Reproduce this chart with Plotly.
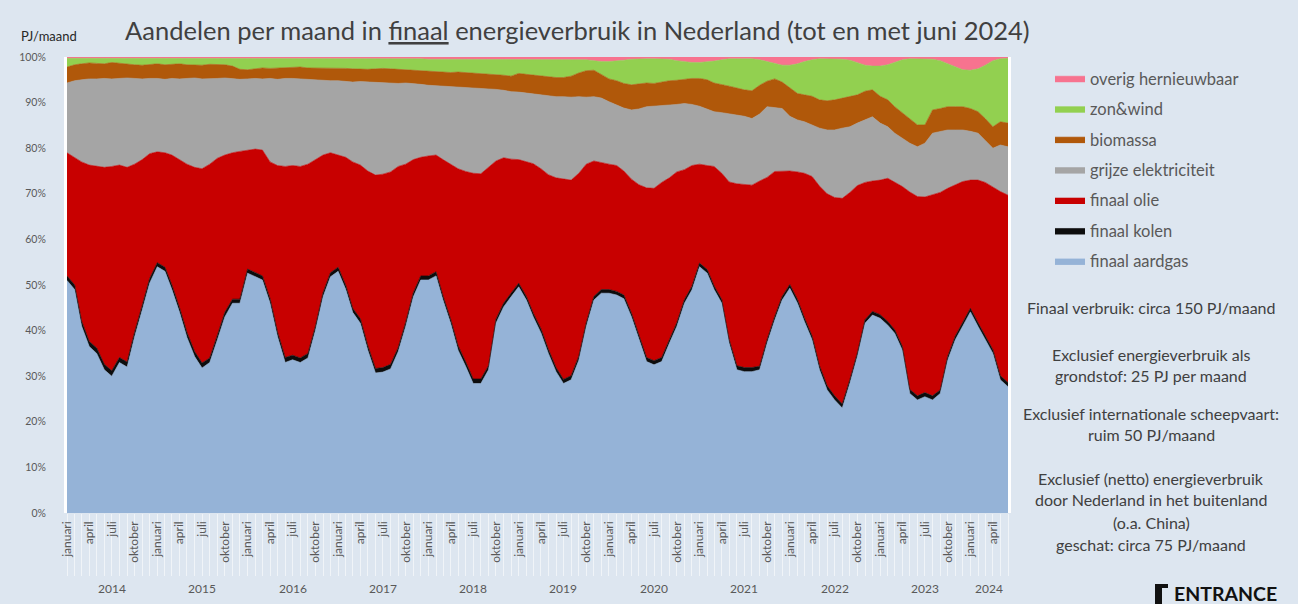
import plotly.graph_objects as go

# ---------------- data (share of final energy use, %, monthly Jan 2014 - Jun 2024) -------------
years = [2014, 2015, 2016, 2017, 2018, 2019, 2020, 2021, 2022, 2023, 2024]
month_names = ["januari", "april", "juli", "oktober"]
y_ticks = [0, 10, 20, 30, 40, 50, 60, 70, 80, 90, 100]

aardgas = [
    51, 49, 41, 36.5, 35, 31.4, 30, 33, 32, 38.6, 44.5, 50.4,
    54, 53, 49, 44, 38.5, 34.3, 31.8, 33, 38, 43, 46, 46,
    52.6, 51.8, 51.1, 46, 38.7, 33, 33.6, 33, 34, 40, 47.4, 51.8,
    53, 49, 44, 41.6, 35.7, 30.7, 30.9, 31.6, 35.4, 40.9, 47.4, 51.1,
    51.1, 52, 46.7, 41.6, 35.7, 32.1, 28.4, 28.4, 31.4, 41.6, 45.2, 47.4,
    49.6, 46.7, 43, 39.5, 35, 31, 28.4, 29.2, 33.5, 40.9, 46.7, 48.2,
    48.2, 47.8, 47, 43, 38.3, 33.2, 32.5, 33.2, 37.2, 40.9, 46, 48.9,
    54, 52.6, 49, 46, 37.2, 31.4, 31, 31, 31.4, 37.2, 42.3, 46.7,
    49.3, 46, 42, 38, 31.4, 27, 24.8, 23, 28.5, 34.3, 41.6, 43.4,
    42.7, 41.2, 39.4, 35.7, 26.2, 24.8, 25.5, 24.8, 26.2, 33.5, 38, 40.9,
    44.1, 40.9, 38, 35, 29.2, 27.7,
]
kolen = [
    1.0, 1.0, 1.1, 1.1, 1.2, 1.2, 1.2, 1.1, 1.1, 1.0, 1.0, 1.0,
    0.9, 0.9, 1.0, 1.0, 1.1, 1.1, 1.1, 1.0, 1.0, 1.0, 0.9, 0.9,
    0.9, 0.9, 0.9, 1.0, 1.0, 1.1, 1.0, 1.0, 1.0, 0.9, 0.9, 0.9,
    0.9, 0.9, 0.9, 1.0, 1.0, 1.0, 1.0, 1.0, 0.9, 0.9, 0.9, 0.9,
    0.9, 0.9, 0.9, 0.9, 1.0, 1.0, 1.0, 1.0, 0.9, 0.9, 0.8, 0.8,
    0.8, 0.8, 0.8, 0.9, 0.9, 0.9, 0.9, 0.9, 0.9, 0.8, 0.8, 0.8,
    0.8, 0.8, 0.8, 0.8, 0.8, 0.9, 0.9, 0.9, 0.8, 0.8, 0.8, 0.8,
    0.8, 0.8, 0.8, 0.8, 0.8, 0.9, 0.9, 0.9, 0.8, 0.8, 0.8, 0.8,
    0.8, 0.8, 0.8, 0.8, 0.9, 0.9, 0.9, 0.9, 0.8, 0.8, 0.8, 0.8,
    0.8, 0.8, 0.8, 0.8, 0.9, 0.9, 0.9, 0.9, 0.8, 0.8, 0.8, 0.8,
    0.8, 0.8, 0.8, 0.8, 0.9, 0.9,
]
olie = [
    27, 28, 34.9, 38.7, 39.8, 43.2, 44.8, 42.2, 42.7, 36.9, 32, 27.4,
    24.3, 25.1, 28.5, 32.5, 36.9, 40.4, 42.6, 42.5, 38.8, 34.5, 32.1, 32.4,
    26, 27.1, 27.6, 30, 36.5, 41.9, 41.6, 42, 41.5, 36.6, 30.2, 26.3,
    24.6, 28.1, 32.1, 33.7, 38.3, 42.4, 42.4, 42.2, 39.7, 34.7, 29.2, 26,
    26.3, 25.6, 29.9, 34, 38.8, 41.8, 45.1, 45, 43.5, 34.7, 31.9, 29.4,
    27.1, 29.5, 32.8, 35.1, 38.3, 41.6, 43.9, 42.9, 40.1, 34.8, 29.7, 27.8,
    27.5, 27.6, 27.2, 29.4, 32.9, 37.2, 37.8, 38.4, 35.5, 33.1, 28.5, 26.5,
    21.7, 22.8, 26.2, 27.7, 34.6, 39.9, 40.1, 40, 40.6, 35.6, 31.8, 27.5,
    24.9, 28, 31.7, 35, 39.4, 42.1, 43.5, 45.1, 41, 36.7, 30.1, 28.6,
    29.5, 31.4, 32.3, 35.1, 43.3, 43.7, 42.9, 44.1, 43.3, 36.9, 33.2, 31,
    28.1, 31.3, 33.7, 35.7, 40.4, 41.1,
]
grijs = [
    15.3, 16.8, 18, 18.9, 19.2, 19.5, 19.2, 19, 19.6, 18.8, 17.7, 16.5,
    16.1, 16.1, 16.8, 17.7, 18.8, 19.6, 19.7, 18.7, 17.5, 16.9, 16.3, 15.8,
    15.7, 15.5, 15.6, 18.3, 18.9, 19.3, 19.1, 19.2, 18.5, 17.5, 16.3, 15.8,
    16.3, 16.6, 17.5, 18.3, 19.5, 20.3, 20, 19.4, 18.2, 17.8, 16.7, 16,
    15.5, 15.2, 16.1, 17, 17.9, 18.4, 18.8, 18.8, 17.2, 15.7, 14.8, 14.8,
    14.8, 15.1, 15.2, 16.1, 17.2, 17.8, 18.1, 18.2, 16.8, 14.7, 14.1, 14.2,
    13.7, 13.3, 13.8, 15.2, 16.6, 17.8, 18, 16.9, 16, 14.8, 14.5, 13.4,
    12.7, 12.4, 12, 13.3, 14.9, 15.1, 15, 14.6, 14.7, 15.5, 14, 13.7,
    12, 11.4, 11.3, 11.3, 12.7, 14, 14.8, 15.4, 14.4, 13.7, 13.7, 14.1,
    12.5, 11.3, 10.8, 10.6, 10.7, 10.9, 11.8, 13.5, 13.4, 12.8, 12, 11.3,
    10.7, 10.3, 9.2, 8.5, 10.2, 10.6,
]
biomassa = [
    3.5, 3.5, 3.5, 3.5, 3.4, 3.2, 3.6, 3.3, 3.1, 3.0, 3.0, 3.1,
    3.2, 3.2, 3.1, 3.3, 3.0, 2.8, 3.0, 3.2, 3.1, 2.9, 2.7, 2.2,
    2.0, 2.1, 2.4, 2.2, 2.5, 2.4, 2.4, 2.6, 2.6, 2.6, 2.7, 2.8,
    2.8, 2.9, 2.9, 2.7, 2.8, 3.0, 3.2, 3.2, 3.1, 2.9, 2.8, 2.9,
    3.1, 3.1, 3.0, 3.1, 3.3, 3.3, 3.2, 3.2, 3.3, 3.2, 3.3, 3.4,
    4.1, 4.1, 4.2, 4.2, 4.2, 4.2, 4.2, 4.6, 5.2, 5.8, 5.8, 5.2,
    5.0, 5.3, 5.4, 5.5, 5.5, 5.2, 5.0, 5.1, 5.3, 5.3, 5.3, 5.7,
    6.1, 6.4, 6.3, 6.2, 6.1, 5.9, 5.8, 6.1, 6.3, 5.6, 6.3, 5.8,
    6.2, 5.8, 5.9, 6.3, 6.2, 6.4, 6.6, 6.6, 6.7, 6.2, 6.3, 5.9,
    5.9, 5.9, 5.8, 5.5, 5.4, 4.8, 4.0, 5.1, 5.0, 5.1, 5.1, 5.1,
    5.0, 4.7, 4.8, 4.7, 5.1, 5.2,
]
zonwind = [
    1.9, 1.4, 1.2, 1.0, 1.1, 1.2, 0.9, 1.1, 1.2, 1.4, 1.5, 1.3,
    1.2, 1.4, 1.3, 1.2, 1.4, 1.5, 1.5, 1.3, 1.3, 1.4, 1.7, 2.4,
    2.4, 2.2, 2.0, 2.1, 2.0, 1.9, 1.9, 1.8, 2.0, 2.0, 2.1, 2.0,
    2.0, 2.1, 2.2, 2.3, 2.3, 2.2, 2.1, 2.2, 2.3, 2.4, 2.6, 2.7,
    2.6, 2.7, 2.9, 2.9, 2.8, 2.9, 3.0, 3.1, 3.2, 3.4, 3.5, 3.7,
    3.1, 3.3, 3.5, 3.7, 3.9, 4.0, 4.0, 3.7, 3.0, 2.4, 2.1, 2.8,
    3.8, 4.3, 5.1, 5.6, 5.5, 5.3, 5.4, 5.1, 4.7, 4.3, 3.9, 3.5,
    3.5, 3.9, 4.8, 5.4, 6.0, 6.4, 6.8, 7.0, 5.6, 4.3, 3.3, 3.7,
    5.0, 6.5, 7.3, 8.0, 9.0, 9.2, 9.0, 8.5, 7.9, 7.1, 5.7, 5.2,
    6.6, 7.7, 9.8, 11.7, 13.1, 14.5, 14.5, 11.1, 10.5, 9.4, 8.7, 8.1,
    8.4, 9.4, 11.7, 14.5, 13.8, 14.2,
]
overig = [
    0.3, 0.3, 0.3, 0.3, 0.3, 0.3, 0.3, 0.3, 0.3, 0.3, 0.3, 0.3,
    0.3, 0.3, 0.3, 0.3, 0.3, 0.3, 0.3, 0.3, 0.3, 0.3, 0.3, 0.3,
    0.4, 0.4, 0.4, 0.4, 0.4, 0.4, 0.4, 0.4, 0.4, 0.4, 0.4, 0.4,
    0.4, 0.4, 0.4, 0.4, 0.4, 0.4, 0.4, 0.4, 0.4, 0.4, 0.4, 0.4,
    0.5, 0.5, 0.5, 0.5, 0.5, 0.5, 0.5, 0.5, 0.5, 0.5, 0.5, 0.5,
    0.5, 0.5, 0.5, 0.5, 0.5, 0.5, 0.5, 0.5, 0.5, 0.6, 0.8, 1.0,
    1.0, 0.9, 0.7, 0.5, 0.4, 0.4, 0.4, 0.4, 0.5, 0.8, 1.0, 1.2,
    1.2, 1.1, 0.9, 0.6, 0.4, 0.4, 0.4, 0.4, 0.6, 1.0, 1.5, 1.8,
    1.8, 1.5, 1.0, 0.6, 0.4, 0.4, 0.4, 0.5, 0.7, 1.2, 1.8, 2.0,
    2.0, 1.7, 1.1, 0.6, 0.4, 0.4, 0.4, 0.5, 0.8, 1.5, 2.2, 2.8,
    2.9, 2.6, 1.8, 0.8, 0.4, 0.3,
]

# months as dates
months = [f"{y}-{m:02d}-01" for y in years for m in range(1, 13)][:len(aardgas)]

series = [
    ("finaal aardgas", aardgas, "#95b3d7"),
    ("finaal kolen", kolen, "#0d0d0d"),
    ("finaal olie", olie, "#c80000"),
    ("grijze elektriciteit", grijs, "#a5a5a5"),
    ("biomassa", biomassa, "#b0580a"),
    ("zon&wind", zonwind, "#92d050"),
    ("overig hernieuwbaar", overig, "#f7738f"),
]

# ---------------- figure ----------------
W, H = 1298, 604
L, R, T, B = 67, 290, 57, 91
PW, PH = W - L - R, H - T - B


def px(xp):
    return (xp - L) / PW


def py(yp):
    return (H - B - yp) / PH


BG = "#dde6f0"
TXT = "#595959"
FONT = "Lato"

fig = go.Figure()
for i, (name, vals, col) in enumerate(series):
    fig.add_trace(go.Scatter(
        x=months, y=vals, name=name, mode="lines",
        stackgroup="one", groupnorm="percent",
        line=dict(width=0.6, color=col), fillcolor=col,
        legendgroup=name, legendrank=100 - i,
        hoverinfo="x+y+name",
    ))

tickvals, ticktext = [], []
for d in months:
    m = int(d[5:7])
    if m in (1, 4, 7, 10):
        tickvals.append(d)
        ticktext.append(month_names[(m - 1) // 3])

annotations = []
# year labels
for y in years:
    mid = f"{y}-07-01" if y < 2024 else "2024-03-16"
    annotations.append(dict(x=mid, xref="x", y=py(588), yref="paper", text=str(y),
                            xanchor="center", yanchor="middle",
                            showarrow=False, font=dict(family=FONT, size=12, color=TXT)))

annotations.append(dict(x=px(49), y=py(36), xref="paper", yref="paper", text="PJ/maand",
                        xanchor="center", yanchor="middle",
                        showarrow=False, font=dict(family=FONT, size=13, color="#262626")))
annotations.append(dict(x=px(577), y=py(30), xref="paper", yref="paper",
                        text="Aandelen per maand in <u>finaal</u> energieverbruik in Nederland (tot en met juni 2024)",
                        xanchor="center", yanchor="middle",
                        showarrow=False, font=dict(family=FONT, size=25.5, color="#404040")))

side = [
    (307, "Finaal verbruik: circa 150 PJ/maand"),
    (354, "Exclusief energieverbruik als"),
    (375, "grondstof: 25 PJ per maand"),
    (413, "Exclusief internationale scheepvaart:"),
    (434, "ruim 50 PJ/maand"),
    (478, "Exclusief (netto) energieverbruik"),
    (499, "door Nederland in het buitenland"),
    (522, "(o.a. China)"),
    (544, "geschat: circa 75 PJ/maand"),
]
for yp, t in side:
    annotations.append(dict(x=px(1151), y=py(yp), xref="paper", yref="paper", text=t,
                            xanchor="center", yanchor="middle",
                            showarrow=False, font=dict(family=FONT, size=16, color="#404040")))

annotations.append(dict(x=px(1172), y=py(593), xref="paper", yref="paper", text="<b>ENTRANCE</b>",
                        xanchor="left", yanchor="middle",
                        showarrow=False, font=dict(family=FONT, size=19.5, color="#111111")))

shapes = [
    dict(type="rect", xref="paper", yref="paper", x0=px(1155), x1=px(1162), y0=py(604), y1=py(584),
         fillcolor="#111111", line=dict(width=0)),
    dict(type="rect", xref="paper", yref="paper", x0=px(1155), x1=px(1168), y0=py(588), y1=py(584),
         fillcolor="#111111", line=dict(width=0)),
]

fig.update_layout(
    width=W, height=H,
    margin=dict(l=L, r=R, t=T, b=B, pad=0),
    paper_bgcolor=BG, plot_bgcolor=BG,
    font=dict(family=FONT, color=TXT),
    showlegend=True,
    legend=dict(x=px(1050), y=py(61), xanchor="left", yanchor="top",
                traceorder="grouped", tracegroupgap=6,
                font=dict(family=FONT, size=16.5, color=TXT),
                bgcolor="rgba(0,0,0,0)", itemwidth=30),
    annotations=annotations,
    shapes=shapes,
    xaxis=dict(
        range=[months[0], months[-1]], type="date",
        tickvals=tickvals, ticktext=ticktext, tickangle=-90,
        tickfont=dict(family=FONT, size=12, color=TXT),
        ticks="", showgrid=False, zeroline=False, showline=False,
        ticklabelstandoff=5,
        minor=dict(ticks="outside", ticklen=62, tickcolor="rgba(255,255,255,0.55)",
                   dtick="M1", tick0="2014-01-01", showgrid=False),
    ),
    yaxis=dict(
        range=[0, 100], tickmode="array", tickvals=y_ticks,
        ticktext=[f"{v}%" for v in y_ticks],
        tickfont=dict(family=FONT, size=10.5, color=TXT),
        showgrid=False, zeroline=False, showline=True, linecolor="white", linewidth=3,
        mirror=True, ticks="", ticklabelstandoff=16,
    ),
)

fig.write_html("out.html", config={"displayModeBar": False},
               post_script="document.body.style.margin='0';document.body.style.background='" + BG + "';")
